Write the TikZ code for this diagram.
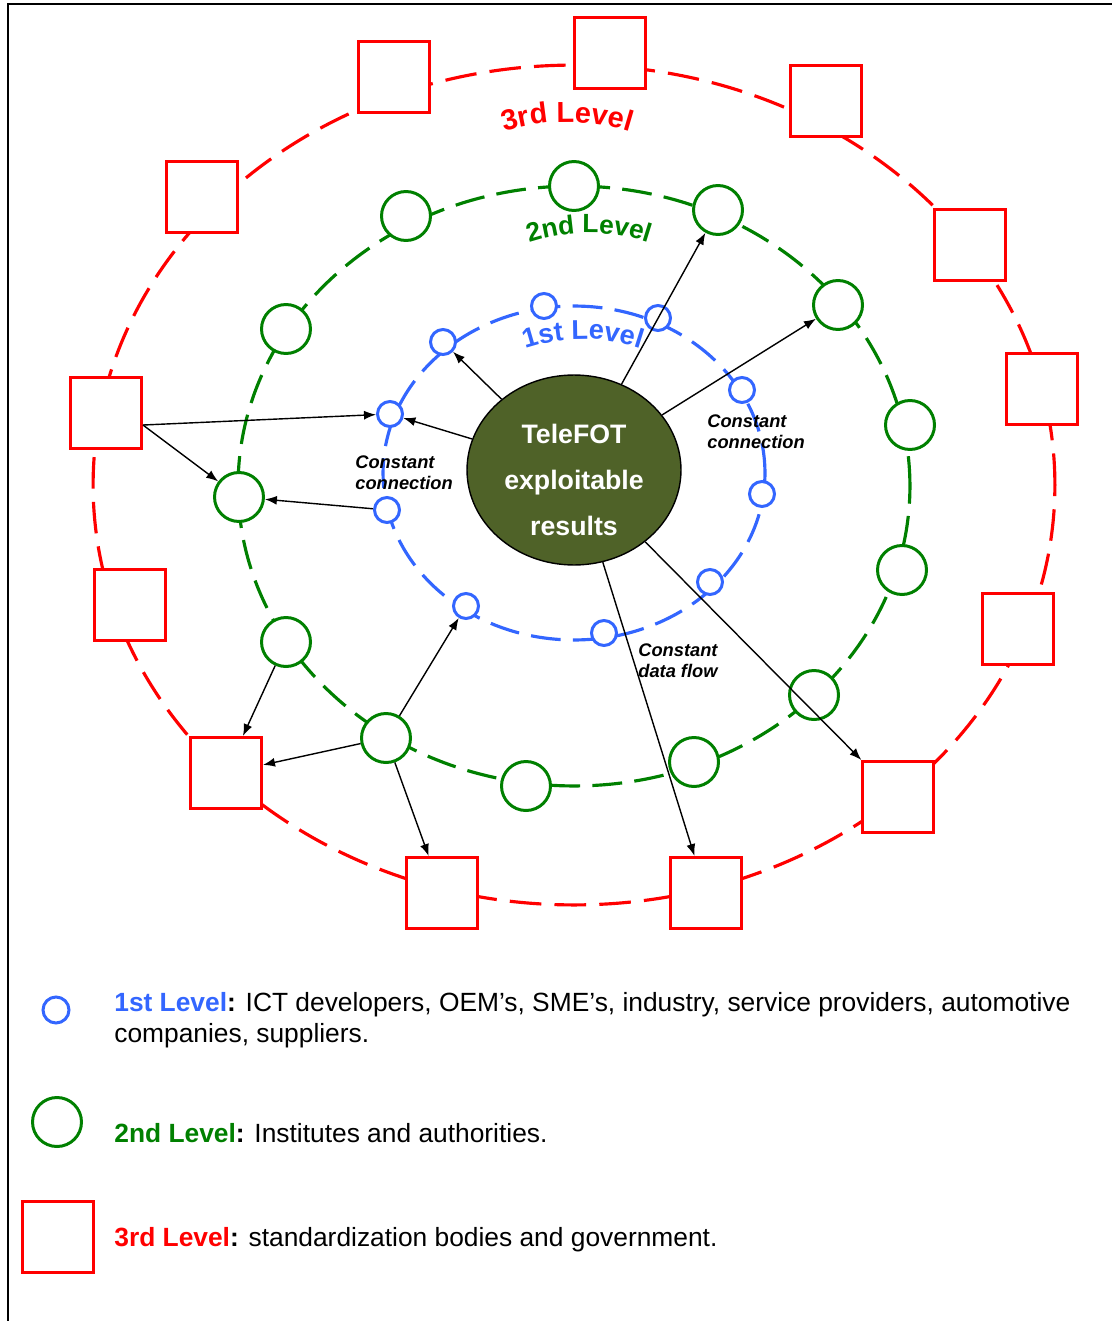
\documentclass[tikz,border=0pt]{standalone}
\usepackage{fontspec}
\setmainfont{Liberation Sans}
\usetikzlibrary{shapes.geometric,arrows.meta,decorations.text}
\definecolor{lvlblue}{RGB}{51,102,255}
\definecolor{lvlgreen}{RGB}{0,128,0}
\definecolor{lvlred}{RGB}{255,0,0}
\definecolor{resolive}{RGB}{79,98,40}
\newcommand\ringfont[1]{\fontsize{#1}{18}\selectfont\bfseries}
\tikzset{
  lvlone/.style={circle,draw=lvlblue,line width=1.7pt,fill=white,minimum size=0.5cm,inner sep=0pt},
  lvltwo/.style={circle,draw=lvlgreen,line width=1.7pt,fill=white,minimum size=0.98cm,inner sep=0pt},
  lvlthree/.style={rectangle,draw=lvlred,line width=1.7pt,fill=white,minimum size=1.42cm,inner sep=0pt},
  ring/.style={line width=1.8pt,dash pattern=on 17pt off 7pt},
  note/.style={font=\fontsize{10.4}{12}\selectfont\bfseries\itshape,align=left,inner sep=0pt,anchor=north west},
  legend/.style={font=\fontsize{15}{17.6}\selectfont,align=left,inner sep=0pt,anchor=north west},
  link/.style={->,line width=0.8pt}
}
\begin{document}
\begin{tikzpicture}[x=0.02cm,y=0.02cm,>={Latex[length=2.4mm,width=1.8mm]}]
    \useasboundingbox (0,0) rectangle (1112,-1321);
    \draw[line width=1.2pt] (8,-1321) -- (8,-4) -- (1112,-4);

    % rings
    \draw[ring,draw=lvlred,dash pattern=on 18pt off 7.5pt] (574,-485) ellipse[x radius=9.62cm,y radius=8.4cm];
    \draw[ring,draw=lvlgreen] (574,-486) ellipse[x radius=6.72cm,y radius=6cm];
    \draw[ring,draw=lvlblue] (574,-473) ellipse[x radius=3.82cm,y radius=3.34cm];

    % ring labels
    \path[decorate,decoration={text along path,text align=center,text={|\ringfont{16.5}\color{lvlred}|3rd Level}}]
        ([shift={(125:4.2cm)}]567,-332) arc[start angle=125,end angle=55,radius=4.2cm];
    \path[decorate,decoration={text along path,text align=center,text={|\ringfont{15}\color{lvlgreen}|2nd Level}}]
        ([shift={(125:3.8cm)}]589,-423) arc[start angle=125,end angle=55,radius=3.8cm];
    \path[decorate,decoration={text along path,text align=center,text={|\ringfont{15.5}\color{lvlblue}|1st Level}}]
        ([shift={(125:3.6cm)}]583,-519) arc[start angle=125,end angle=55,radius=3.6cm];

    % stakeholders
    \foreach \x/\y [count=\i] in {544/306,443/342,390/414,387/510,466/606,604/633,710/582,762/494,742/390,658/318} {
        \node[lvlone] (b\i) at (\x,-\y) {};
    }
    \foreach \x/\y [count=\i] in {574/186,406/216,286/329,239/497,286/642,386/738,526/786,694/762,814/695,902/570,910/425,838/305,718/210} {
        \node[lvltwo] (g\i) at (\x,-\y) {};
    }
    \foreach \x/\y [count=\i] in {610/53,394/77,202/197,106/413,130/605,226/773,442/893,706/893,898/797,1018/629,1042/389,970/245,826/101} {
        \node[lvlthree] (r\i) at (\x,-\y) {};
    }

    \node[ellipse,draw=black,line width=0.8pt,fill=resolive,text=white,minimum width=4.28cm,minimum height=3.8cm,inner sep=0pt,
          align=center,font=\fontsize{15.2}{26.2}\selectfont\bfseries] (res) at (574,-470) {\rule{0pt}{22pt}TeleFOT\\exploitable\\results};

    % flows
    \draw[link] (res) -- (b2);
    \draw[link] (res) -- (b3);
    \draw[link] (res) -- (g13);
    \draw[link] (res) -- (g12);
    \draw[link] (res) -- (r9);
    \draw[link] (res) -- (r8);
    \draw[link] (r4.-18) -- (b3);
    \draw[link] (r4.-18) -- (g4);
    \draw[link] (b4) -- (g4);
    \draw[link] (g5) -- (r6);
    \draw[link] (g6) -- (b5);
    \draw[link] (g6) -- (r6);
    \draw[link] (g6) -- (r7);

    \node[note] (cl) at (355,-455) {Constant\\connection};
    \node[note] (cr) at (707,-414) {Constant\\connection};
    \node[note] (cd) at (638,-643) {Constant\\data flow};

    % legend
    \node[lvlone,minimum size=0.52cm] (lgb) at (56,-1010) {};
    \node[legend] (lgbt) at (114,-992) {\textbf{\color{lvlblue}1st Level}\textbf{:} ICT developers, OEM’s, SME’s, industry, service providers, automotive\\companies, suppliers.};
    \node[lvltwo] (lgg) at (57,-1122) {};
    \node[legend] (lggt) at (114,-1123) {\textbf{\color{lvlgreen}2nd Level}\textbf{:} Institutes and authorities.};
    \node[lvlthree] (lgr) at (58,-1237) {};
    \node[legend] (lgrt) at (114,-1227) {\textbf{\color{lvlred}3rd Level}\textbf{:} standardization bodies and government.};
\end{tikzpicture}
\end{document}
